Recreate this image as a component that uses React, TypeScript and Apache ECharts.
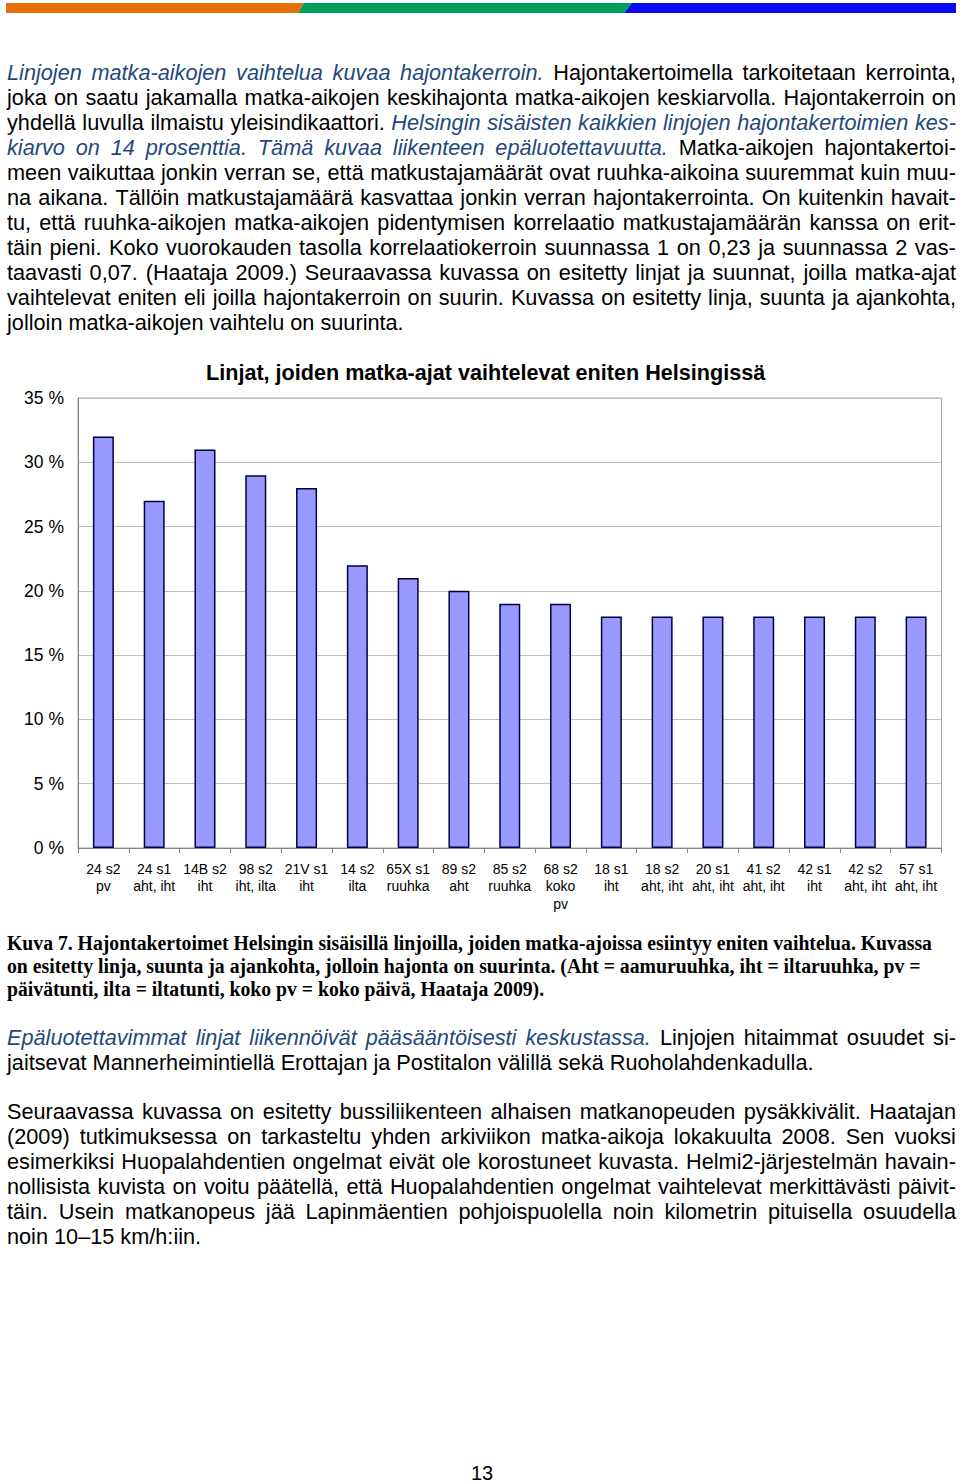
import React, { useEffect, useLayoutEffect, useRef } from "react";
import * as echarts from "echarts";

// ---------- chart data ----------
const chartTitle = "Linjat, joiden matka-ajat vaihtelevat eniten Helsingissä";
const categories = [
  "24 s2\npv",
  "24 s1\naht, iht",
  "14B s2\niht",
  "98 s2\niht, ilta",
  "21V s1\niht",
  "14 s2\nilta",
  "65X s1\nruuhka",
  "89 s2\naht",
  "85 s2\nruuhka",
  "68 s2\nkoko\npv",
  "18 s1\niht",
  "18 s2\naht, iht",
  "20 s1\naht, iht",
  "41 s2\naht, iht",
  "42 s1\niht",
  "42 s2\naht, iht",
  "57 s1\naht, iht",
];
const values = [32, 27, 31, 29, 28, 22, 21, 20, 19, 19, 18, 18, 18, 18, 18, 18, 18];
const yTicks = { min: 0, max: 35, interval: 5 };

// ---------- page text ----------
type Seg = [string, string]; // [style "n" normal | "b" blue italic, text]
type Line = { y: number; j: boolean; segs: Seg[] };

const para1: Line[] = [
  { y: 73, j: true, segs: [["b", "Linjojen matka-aikojen vaihtelua kuvaa hajontakerroin."], ["n", "Hajontakertoimella tarkoitetaan kerrointa,"]] },
  { y: 98, j: true, segs: [["n", "joka on saatu jakamalla matka-aikojen keskihajonta matka-aikojen keskiarvolla. Hajontakerroin on"]] },
  { y: 123, j: true, segs: [["n", "yhdellä luvulla ilmaistu yleisindikaattori."], ["b", "Helsingin sisäisten kaikkien linjojen hajontakertoimien kes-"]] },
  { y: 148, j: true, segs: [["b", "kiarvo on 14 prosenttia. Tämä kuvaa liikenteen epäluotettavuutta."], ["n", "Matka-aikojen hajontakertoi-"]] },
  { y: 173, j: true, segs: [["n", "meen vaikuttaa jonkin verran se, että matkustajamäärät ovat ruuhka-aikoina suuremmat kuin muu-"]] },
  { y: 198, j: true, segs: [["n", "na aikana. Tällöin matkustajamäärä kasvattaa jonkin verran hajontakerrointa. On kuitenkin havait-"]] },
  { y: 223, j: true, segs: [["n", "tu, että ruuhka-aikojen matka-aikojen pidentymisen korrelaatio matkustajamäärän kanssa on erit-"]] },
  { y: 248, j: true, segs: [["n", "täin pieni. Koko vuorokauden tasolla korrelaatiokerroin suunnassa 1 on 0,23 ja suunnassa 2 vas-"]] },
  { y: 273, j: true, segs: [["n", "taavasti 0,07. (Haataja 2009.) Seuraavassa kuvassa on esitetty linjat ja suunnat, joilla matka-ajat"]] },
  { y: 298, j: true, segs: [["n", "vaihtelevat eniten eli joilla hajontakerroin on suurin. Kuvassa on esitetty linja, suunta ja ajankohta,"]] },
  { y: 323, j: false, segs: [["n", "jolloin matka-aikojen vaihtelu on suurinta."]] },
];
const para2: Line[] = [
  { y: 1038, j: true, segs: [["b", "Epäluotettavimmat linjat liikennöivät pääsääntöisesti keskustassa."], ["n", "Linjojen hitaimmat osuudet si-"]] },
  { y: 1063, j: false, segs: [["n", "jaitsevat Mannerheimintiellä Erottajan ja Postitalon välillä sekä Ruoholahdenkadulla."]] },
];
const para3: Line[] = [
  { y: 1112, j: true, segs: [["n", "Seuraavassa kuvassa on esitetty bussiliikenteen alhaisen matkanopeuden pysäkkivälit. Haatajan"]] },
  { y: 1137, j: true, segs: [["n", "(2009) tutkimuksessa on tarkasteltu yhden arkiviikon matka-aikoja lokakuulta 2008. Sen vuoksi"]] },
  { y: 1162, j: true, segs: [["n", "esimerkiksi Huopalahdentien ongelmat eivät ole korostuneet kuvasta. Helmi2-järjestelmän havain-"]] },
  { y: 1187, j: true, segs: [["n", "nollisista kuvista on voitu päätellä, että Huopalahdentien ongelmat vaihtelevat merkittävästi päivit-"]] },
  { y: 1212, j: true, segs: [["n", "täin. Usein matkanopeus jää Lapinmäentien pohjoispuolella noin kilometrin pituisella osuudella"]] },
  { y: 1237, j: false, segs: [["n", "noin 10–15 km/h:iin."]] },
];
const captionLines = [
  "Kuva 7. Hajontakertoimet Helsingin sisäisillä linjoilla, joiden matka-ajoissa esiintyy eniten vaihtelua. Kuvassa",
  "on esitetty linja, suunta ja ajankohta, jolloin hajonta on suurinta. (Aht = aamuruuhka, iht = iltaruuhka, pv =",
  "päivätunti, ilta = iltatunti, koko pv = koko päivä, Haataja 2009).",
];
const captionY = [943, 966, 989];
const captionW = [925, 913, 537];
const pageNumber = "13";

const SANS = "'Liberation Sans', Arial, Helvetica, sans-serif";
const SERIF = "'Liberation Serif', 'Times New Roman', serif";
const BLUE = "#1F497D";
const FS = 21.7;
const LH = 25;

function segStyle(s: string): React.CSSProperties {
  return s === "b" ? { color: BLUE, fontStyle: "italic" } : { color: "#000" };
}

function TextLine({ line }: { line: Line }) {
  const base: React.CSSProperties = {
    position: "absolute",
    left: 7,
    top: line.y - LH / 2 - 1,
    height: LH,
    lineHeight: LH + "px",
    fontFamily: SANS,
    fontSize: FS,
    whiteSpace: "nowrap",
  };
  if (line.j) {
    const words: { s: string; t: string }[] = [];
    line.segs.forEach(([s, t]) => t.split(" ").filter(Boolean).forEach((w) => words.push({ s, t: w })));
    return (
      <div style={{ ...base, width: 949, display: "flex", justifyContent: "space-between" }}>
        {words.map((w, i) => (
          <span key={i} style={segStyle(w.s)}>{w.t}</span>
        ))}
      </div>
    );
  }
  return (
    <div style={base}>
      {line.segs.map(([s, t], i) => (
        <span key={i} style={segStyle(s)}>{(i > 0 ? " " : "") + t}</span>
      ))}
    </div>
  );
}

function Chart() {
  const ref = useRef<HTMLDivElement>(null);
  useEffect(() => {
    if (!ref.current) return;
    const chart = echarts.init(ref.current, null, { renderer: "svg" });
    chart.setOption({
      animation: false,
      title: {
        text: chartTitle,
        left: 201,
        top: 6,
        textStyle: { fontFamily: SANS, fontSize: 21.6, fontWeight: "bold", color: "#000" },
      },
      grid: {
        left: 78,
        right: 18.5,
        top: 48,
        bottom: 72,
        show: true,
        borderColor: "#a6a6a6",
        borderWidth: 1,
      },
      xAxis: {
        type: "category",
        data: categories,
        axisLine: { lineStyle: { color: "#868686", width: 1 } },
        axisTick: { show: true, length: 5, lineStyle: { color: "#868686" } },
        axisLabel: {
          interval: 0,
          fontFamily: SANS,
          fontSize: 14,
          lineHeight: 17.5,
          color: "#000",
          margin: 12,
        },
      },
      yAxis: {
        type: "value",
        min: yTicks.min,
        max: yTicks.max,
        interval: yTicks.interval,
        axisLine: { show: true, lineStyle: { color: "#868686", width: 1 } },
        axisTick: { show: false },
        splitLine: { lineStyle: { color: "#c0c0c0", width: 1 } },
        axisLabel: {
          formatter: "{value} %",
          fontFamily: SANS,
          fontSize: 17.5,
          color: "#000",
          margin: 14,
        },
      },
      series: [
        {
          type: "bar",
          data: values,
          barWidth: 21,
          itemStyle: { color: "#9999FF", borderColor: "#000040", borderWidth: 1.5 },
        },
      ],
    });
    return () => chart.dispose();
  }, []);
  return <div ref={ref} style={{ position: "absolute", left: 0, top: 350, width: 960, height: 570 }} />;
}

function Caption() {
  const refs = useRef<(HTMLSpanElement | null)[]>([]);
  useLayoutEffect(() => {
    refs.current.forEach((el, i) => {
      if (!el) return;
      const w = el.offsetWidth;
      if (w > 0) el.style.transform = `scaleX(${captionW[i] / w})`;
    });
  }, []);
  return (
    <>
      {captionLines.map((t, i) => (
        <span
          key={i}
          ref={(el) => {
            refs.current[i] = el;
          }}
          style={{
            position: "absolute",
            left: 7,
            top: captionY[i] - 12,
            height: 24,
            lineHeight: "24px",
            fontFamily: SERIF,
            fontWeight: "bold",
            fontSize: 20,
            whiteSpace: "nowrap",
            transformOrigin: "0 0",
            color: "#000",
          }}
        >
          {t}
        </span>
      ))}
    </>
  );
}

export default function App() {
  return (
    <div
      style={{
        position: "absolute",
        left: 0,
        top: 0,
        width: 960,
        height: 1483,
        background: "#fff",
        overflow: "hidden",
      }}
    >
      <svg width={960} height={20} style={{ position: "absolute", left: 0, top: 0 }}>
        <polygon points="6,3 304,3 298,13 6,13" fill="#E8700A" />
        <polygon points="304,3 632,3 624,13 298,13" fill="#00A05A" />
        <polygon points="632,3 956,3 956,13 624,13" fill="#0A0AF0" />
      </svg>
      {para1.map((l, i) => (
        <TextLine key={"a" + i} line={l} />
      ))}
      <Chart />
      <Caption />
      {para2.map((l, i) => (
        <TextLine key={"b" + i} line={l} />
      ))}
      {para3.map((l, i) => (
        <TextLine key={"c" + i} line={l} />
      ))}
      <div
        style={{
          position: "absolute",
          left: 0,
          width: 964,
          top: 1464,
          height: 19,
          lineHeight: "19px",
          textAlign: "center",
          fontFamily: SANS,
          fontSize: 20,
          color: "#000",
        }}
      >
        {pageNumber}
      </div>
    </div>
  );
}
